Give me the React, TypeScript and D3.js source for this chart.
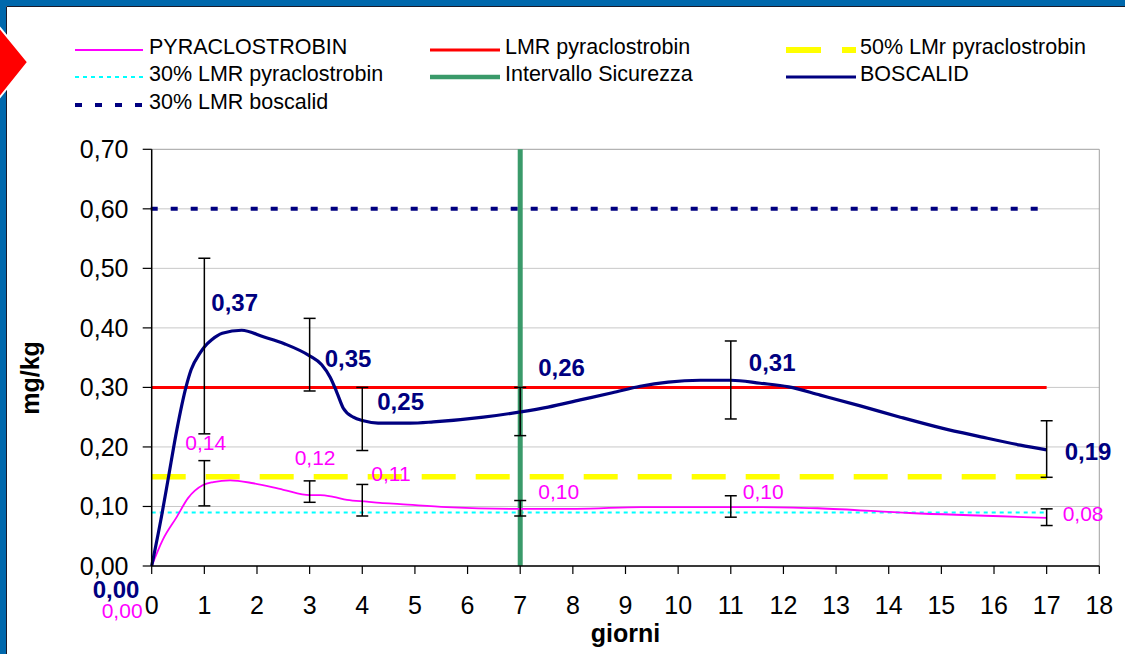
import * as d3 from "d3";

// measured points (days after treatment)
const days = [0, 1, 3, 4, 7, 11, 17];
const boscalid = [0, 0.37, 0.35, 0.25, 0.26, 0.31, 0.19];
const pyraclostrobin = [0, 0.14, 0.12, 0.11, 0.1, 0.1, 0.08];
const boscalidLow = [null, 0.222, 0.294, 0.194, 0.219, 0.247, 0.149];
const boscalidHigh = [null, 0.517, 0.416, 0.3, 0.3, 0.378, 0.244];
const pyraLow = [null, 0.101, 0.107, 0.084, 0.084, 0.082, 0.068];
const pyraHigh = [null, 0.177, 0.143, 0.137, 0.11, 0.118, 0.096];

// smoothed trend lines
const boscalidCurveDays = [0, 0.2, 0.31, 0.48, 0.65, 0.75, 0.92, 1, 1.14, 1.34, 1.71, 2.12, 2.53, 3, 3.23, 3.39, 3.52, 3.64, 3.83, 4.02, 4.3, 4.91, 5.35, 6.3, 7.01, 7.53, 8.14, 8.75, 9.28, 9.81, 10.42, 11, 11.56, 12.1, 12.7, 13.46, 14.22, 14.99, 15.75, 16.5, 17];
const boscalidCurveValues = [0, 0.09, 0.145, 0.23, 0.3, 0.33, 0.358, 0.368, 0.38, 0.391, 0.396, 0.385, 0.373, 0.353, 0.338, 0.317, 0.291, 0.265, 0.25, 0.244, 0.24, 0.24, 0.242, 0.25, 0.259, 0.267, 0.279, 0.291, 0.302, 0.309, 0.312, 0.312, 0.307, 0.301, 0.287, 0.269, 0.25, 0.232, 0.217, 0.203, 0.195];
const pyraCurveDays = [0, 0.21, 0.48, 0.69, 0.975, 1.17, 1.49, 1.93, 2.5, 3, 3.2, 3.45, 3.71, 4.09, 4.34, 4.72, 5.6, 7.02, 8.07, 9.3, 11.58, 12.65, 14.4, 17];
const pyraCurveValues = [0, 0.044, 0.083, 0.114, 0.136, 0.141, 0.144, 0.139, 0.128, 0.119, 0.119, 0.116, 0.111, 0.108, 0.106, 0.104, 0.099, 0.096, 0.096, 0.099, 0.099, 0.097, 0.089, 0.081];

// reference levels
const lmrPyra = 0.3;
const halfLmrPyra = 0.15;
const lmr30Pyra = 0.09;
const lmr30Boscalid = 0.6;
const safetyDay = 7;
const lastDay = 17;

const yTicks = [0, 0.1, 0.2, 0.3, 0.4, 0.5, 0.6, 0.7];
const xTicks = d3.range(0, 19);

const legendNames = [
  "PYRACLOSTROBIN", "LMR pyraclostrobin", "50% LMr pyraclostrobin",
  "30% LMR pyraclostrobin", "Intervallo Sicurezza", "BOSCALID",
  "30% LMR boscalid",
];

// label offsets (px) from their points
const boscalidLabelOff = [[-59, 32], [7, -35], [15, 9], [15, -7], [18, -35], [18, -10], [18, 7]];
const pyraLabelOff = [[-50, 52], [-19, -33], [-15, -30], [9, -20], [18, -7], [12, -7], [16, 3]];

const fmt = (v: number) => d3.format(".2f")(v).replace(".", ",");
const FONT = "'Liberation Sans', Arial, sans-serif";

const x = d3.scaleLinear().domain([0, 18]).range([151.7, 1099.3]);
const y = d3.scaleLinear().domain([0, 0.7]).range([566, 149.3]);

const smooth = d3.line<[number, number]>()
  .x(d => x(d[0]))
  .y(d => y(d[1]))
  .curve(d3.curveMonotoneX);

const legendStyles = [
  { stroke: "#ff00ff", w: 2 },
  { stroke: "#ff0000", w: 3 },
  { stroke: "#ffff00", w: 6, dash: "35 21" },
  { stroke: "#00ffff", w: 2, dash: "4 4" },
  { stroke: "#3a9a6a", w: 4.5 },
  { stroke: "#000080", w: 3 },
  { stroke: "#000080", w: 4, dash: "7 13" },
];
const legendCols = [[75, 143, 149], [430, 500, 505], [786, 856, 860]];
const legendRows = [50, 77, 105];

export default function App() {
  const x0 = x(0), x1 = x(18), xl = x(lastDay);
  const bPath = smooth(boscalidCurveDays.map((d, i) => [d, boscalidCurveValues[i]] as [number, number]));
  const pPath = smooth(pyraCurveDays.map((d, i) => [d, pyraCurveValues[i]] as [number, number]));

  const errBar = (i: number, lo: (number | null)[], hi: (number | null)[], key: string) => {
    if (lo[i] == null || hi[i] == null) return null;
    const cx = x(days[i]);
    const ya = y(lo[i] as number), yb = y(hi[i] as number);
    return (
      <g key={key} stroke="#000" strokeWidth={1.5}>
        <line x1={cx} x2={cx} y1={ya} y2={yb} />
        <line x1={cx - 6} x2={cx + 6} y1={ya} y2={ya} />
        <line x1={cx - 6} x2={cx + 6} y1={yb} y2={yb} />
      </g>
    );
  };

  return (
    <div style={{ position: "absolute", left: 0, top: 0 }}>
      <svg width={1125} height={654} style={{ display: "block", fontFamily: FONT }}>
        <rect width={1125} height={654} fill="#fff" />
        {/* frame */}
        <rect x={0} y={0} width={1125} height={6} fill="#0068ac" />
        <rect x={0} y={0} width={6} height={654} fill="#0068ac" />
        <line x1={6.5} x2={1125} y1={6.5} y2={6.5} stroke="#1a1a2a" strokeWidth={1} />
        <line x1={6.5} x2={6.5} y1={6.5} y2={654} stroke="#1a1a2a" strokeWidth={1} />
        <polygon points="0,28 28,62 0,97 -30,62" fill="#ff0000" stroke="#fff" strokeWidth={2} />

        {/* legend */}
        {legendNames.map((name, i) => {
          const c = legendCols[i < 3 ? i : i < 6 ? i - 3 : 0];
          const ry = legendRows[Math.floor(i / 3)];
          const s = legendStyles[i];
          return (
            <g key={name}>
              <line x1={c[0]} x2={c[1]} y1={ry} y2={ry} stroke={s.stroke} strokeWidth={s.w} strokeDasharray={s.dash} />
              <text x={c[2]} y={ry + 4} fontSize={21.5} fill="#000">{name}</text>
            </g>
          );
        })}

        {/* grid */}
        {yTicks.map(t => (
          <line key={t} x1={x0} x2={x1} y1={y(t)} y2={y(t)} stroke={t === 0.7 ? "#a0a0a0" : "#c8c8c8"} strokeWidth={1} />
        ))}
        <line x1={x1} x2={x1} y1={y(0.7)} y2={y(0)} stroke="#a0a0a0" strokeWidth={1} />

        {/* reference lines */}
        <line x1={x0 - 1} x2={xl} y1={y(lmr30Boscalid)} y2={y(lmr30Boscalid)} stroke="#000080" strokeWidth={4} strokeDasharray="7 13" />
        <line x1={x0} x2={xl} y1={y(lmrPyra)} y2={y(lmrPyra)} stroke="#ff0000" strokeWidth={3} />
        <line x1={x0} x2={xl} y1={y(halfLmrPyra)} y2={y(halfLmrPyra)} stroke="#ffff00" strokeWidth={5.5} strokeDasharray="34 20" />
        <line x1={x0} x2={xl} y1={y(lmr30Pyra)} y2={y(lmr30Pyra)} stroke="#00ffff" strokeWidth={2} strokeDasharray="4 4" />
        <line x1={x(safetyDay)} x2={x(safetyDay)} y1={y(0.7)} y2={y(0)} stroke="#3a9a6a" strokeWidth={5} />

        {/* series */}
        <path d={pPath || ""} fill="none" stroke="#ff00ff" strokeWidth={1.8} />
        <path d={bPath || ""} fill="none" stroke="#000080" strokeWidth={3.2} strokeLinejoin="round" />

        {days.map((_, i) => errBar(i, boscalidLow, boscalidHigh, "b" + i))}
        {days.map((_, i) => errBar(i, pyraLow, pyraHigh, "p" + i))}

        {/* axes */}
        <line x1={x0} x2={x0} y1={y(0.7)} y2={y(0)} stroke="#000" strokeWidth={1.5} />
        <line x1={x0} x2={x1} y1={y(0)} y2={y(0)} stroke="#000" strokeWidth={1.5} />
        {yTicks.map(t => (
          <g key={"yt" + t}>
            <line x1={x0 - 9} x2={x0} y1={y(t)} y2={y(t)} stroke="#000" strokeWidth={1.2} />
            <text x={128.5} y={y(t) + 9} textAnchor="end" fontSize={25} fill="#000">{fmt(t)}</text>
          </g>
        ))}
        {xTicks.map(t => (
          <g key={"xt" + t}>
            <line x1={x(t)} x2={x(t)} y1={y(0)} y2={y(0) + 8} stroke="#000" strokeWidth={1.2} />
            <text x={x(t)} y={614} textAnchor="middle" fontSize={25} fill="#000">{t}</text>
          </g>
        ))}
        <text x={(x0 + x1) / 2} y={642} textAnchor="middle" fontSize={25} fontWeight="bold">giorni</text>
        <text transform={`translate(39,${378}) rotate(-90)`} textAnchor="middle" fontSize={25} fontWeight="bold">mg/kg</text>

        {/* data labels */}
        {days.map((d, i) => (
          <text key={"bl" + i} x={x(d) + boscalidLabelOff[i][0]} y={y(boscalid[i]) + boscalidLabelOff[i][1]}
            fontSize={24} fontWeight="bold" fill="#000080">{fmt(boscalid[i])}</text>
        ))}
        {days.map((d, i) => (
          <text key={"pl" + i} x={x(d) + pyraLabelOff[i][0]} y={y(pyraclostrobin[i]) + pyraLabelOff[i][1]}
            fontSize={21} fill="#ff00ff">{fmt(pyraclostrobin[i])}</text>
        ))}
      </svg>
    </div>
  );
}
